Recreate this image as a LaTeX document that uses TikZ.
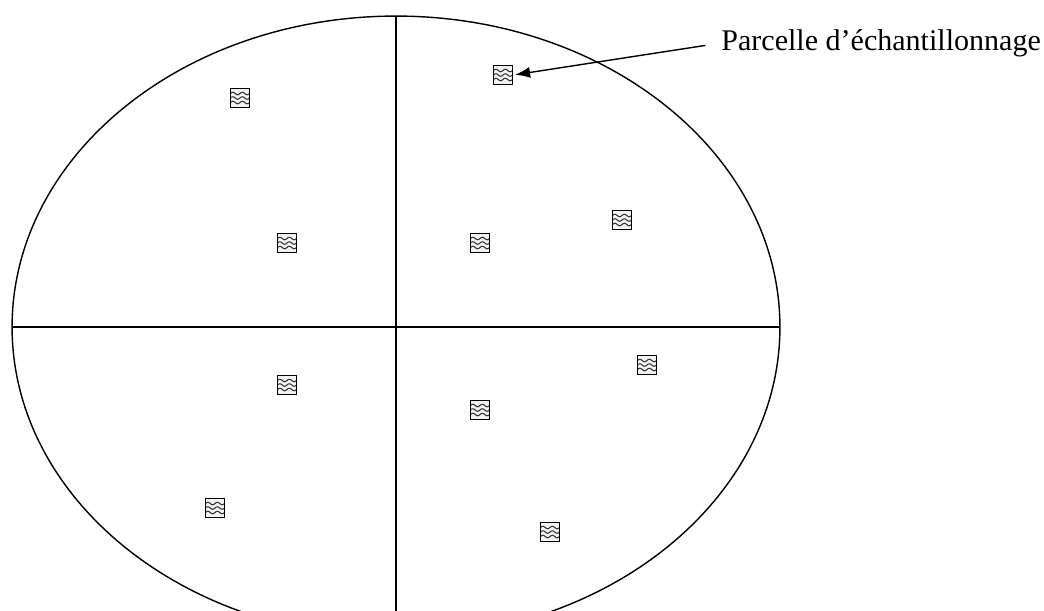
\documentclass[tikz,border=0pt]{standalone}
\usepackage{fontspec}
\setmainfont{Liberation Serif}
\usetikzlibrary{arrows.meta,positioning}

\tikzset{
  plotbox/.style={draw, line width=1pt, fill=gray!10, minimum size=0.38cm, inner sep=0pt,
    path picture={
      \foreach \h in {-0.09,0,0.09}
        \draw[gray!40!black, line width=0.6pt, x=1cm, y=1cm, shift={(path picture bounding box.center)}]
          plot[domain=-0.19:0.19, samples=25, smooth] (\x, {\h+0.025*sin(\x*360/0.19)});
    }},
  lbl/.style={font=\fontsize{17.1}{20}\selectfont, inner sep=0pt, anchor=west},
}

\begin{document}
\begin{tikzpicture}[x=0.02cm,y=-0.02cm]
\useasboundingbox (0,0) rectangle (1044,610);
\clip (0,0) rectangle (1044,610);
% field and quarters
\draw[line width=0.8pt] (396,327) ellipse [x radius=7.68cm, y radius=6.22cm];
\draw[line width=0.8pt] (12,327) -- (780,327);
\draw[line width=0.8pt] (396,16) -- (396,620);
% sampling plots
\node[plotbox] (p1) at (503,75) {};
\node[plotbox] (p2) at (240,98) {};
\node[plotbox] (p3) at (287,243) {};
\node[plotbox] (p4) at (480,243) {};
\node[plotbox] (p5) at (622,220) {};
\node[plotbox] (p6) at (287,385) {};
\node[plotbox] (p7) at (647,365) {};
\node[plotbox] (p8) at (480,410) {};
\node[plotbox] (p9) at (215,508) {};
\node[plotbox] (p10) at (550,532) {};
% label
\node[lbl] (plabel) at (721,43) {Parcelle d’échantillonnage};
\draw[line width=0.8pt, -{Latex[length=0.3cm,width=0.22cm]}, shorten <=9pt, shorten >=1pt] (plabel.west) -- (p1.east);
\end{tikzpicture}
\end{document}
